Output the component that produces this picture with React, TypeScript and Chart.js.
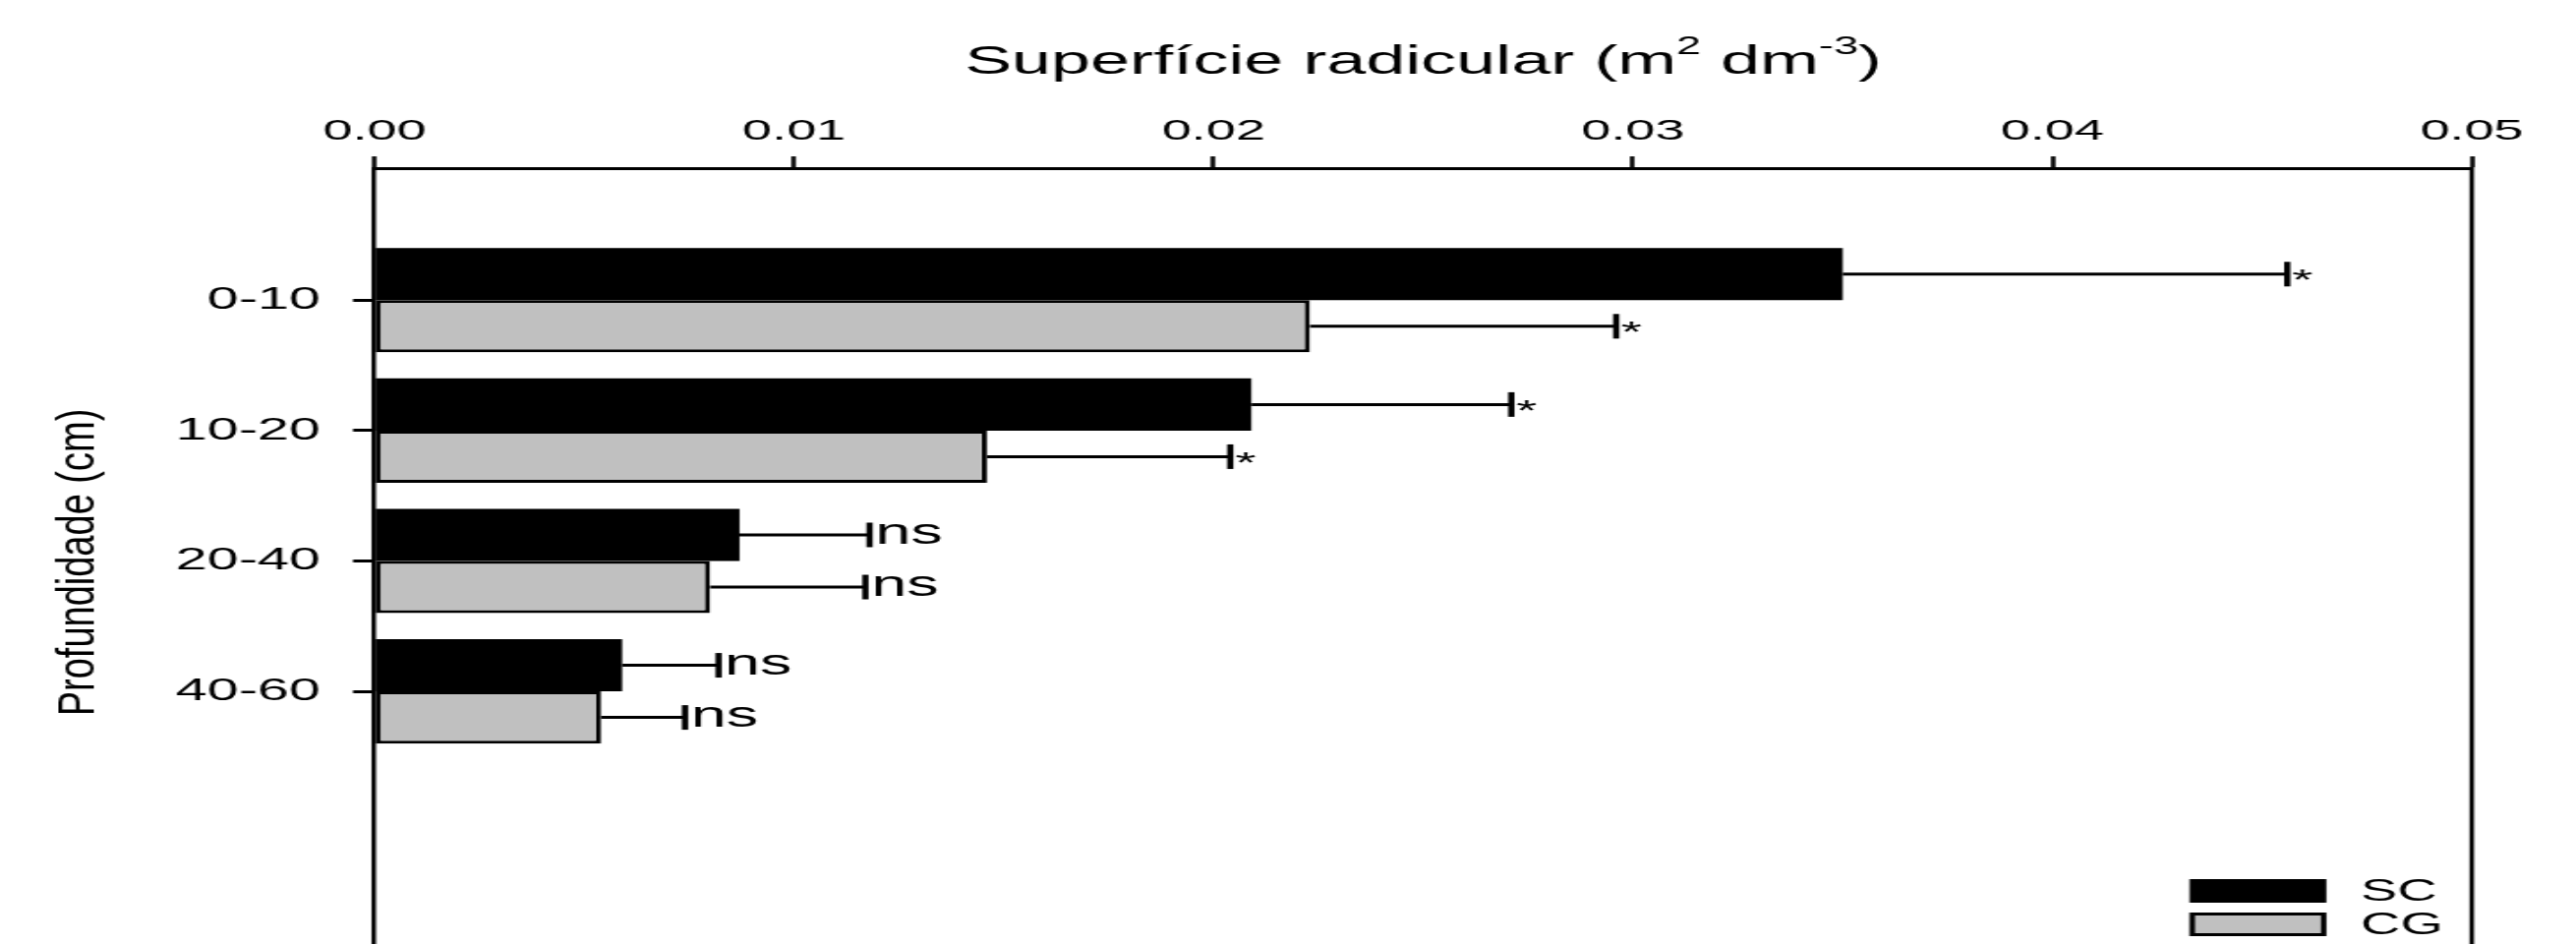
import React, { useEffect, useRef } from "react";
import { Chart, registerables } from "chart.js";

Chart.register(...registerables);

// ---------------- data ----------------
const depthLabels = ["0-10", "10-20", "20-40", "40-60"];
const seriesNames = ["SC", "CG"];
const seriesColors = ["#000000", "#c0c0c0"];
const scValues = [0.035, 0.0209, 0.0087, 0.0059];
const scErrors = [0.0106, 0.0062, 0.0031, 0.0023];
const cgValues = [0.0223, 0.0146, 0.008, 0.0054];
const cgErrors = [0.0073, 0.0058, 0.0037, 0.002];
const scMarks = ["*", "*", "ns", "ns"];
const cgMarks = ["*", "*", "ns", "ns"];
const xTickValues = [0, 0.01, 0.02, 0.03, 0.04, 0.05];
const xTitleParts: [string, boolean][] = [
  ["Superfície radicular (m", false],
  ["2", true],
  [" dm", false],
  ["-3", true],
  [")", false],
];
const yTitle = "Profundidade (cm)";

// ---------------- layout ----------------
const OUT_W = 2620;
const OUT_H = 960;
const STRETCH = 1.8;
const W = Math.round(OUT_W / STRETCH);
const fx = (px: number) => (px * W) / OUT_W;
const FONT = '"Liberation Sans", Arial, Helvetica, sans-serif';
const PLOT_LEFT = 381;
const PLOT_RIGHT = 2514;
const PLOT_TOP = 171;
const ROW_STEP = 132.6;
const FIRST_ROW = 305.3;
const yMin = -(FIRST_ROW - PLOT_TOP) / ROW_STEP;
const yMax = yMin + (OUT_H - PLOT_TOP) / ROW_STEP;

const zeroPad = (s: any) => {
  s.paddingTop = 0;
  s.paddingBottom = 0;
  s.paddingLeft = 0;
  s.paddingRight = 0;
};

const decorPlugin = {
  id: "decor",
  beforeDraw(chart: any) {
    const { ctx, width, height } = chart;
    ctx.save();
    ctx.fillStyle = "#ffffff";
    ctx.fillRect(0, 0, width, height);
    ctx.restore();
  },
  afterDatasetsDraw(chart: any) {
    const ctx = chart.ctx as CanvasRenderingContext2D;
    const xs = chart.scales.x;
    const area = chart.chartArea;
    const sets: [number[], number[], string[]][] = [
      [scValues, scErrors, scMarks],
      [cgValues, cgErrors, cgMarks],
    ];
    ctx.save();
    ctx.strokeStyle = "#000";
    ctx.fillStyle = "#000";
    sets.forEach(([vals, errs, marks], d) => {
      const meta = chart.getDatasetMeta(d);
      meta.data.forEach((el: any, i: number) => {
        const y = el.y;
        const x0 = el.x;
        const x1 = xs.getPixelForValue(vals[i] + errs[i]);
        ctx.lineWidth = 3;
        ctx.beginPath();
        ctx.moveTo(x0, y);
        ctx.lineTo(x1, y);
        ctx.stroke();
        ctx.lineWidth = 3.5;
        ctx.beginPath();
        ctx.moveTo(x1, y - 12.5);
        ctx.lineTo(x1, y + 12.5);
        ctx.stroke();
        const m = marks[i];
        ctx.textAlign = "left";
        ctx.textBaseline = "alphabetic";
        if (m === "*") {
          const size = 30;
          ctx.font = `${size}px ${FONT}`;
          ctx.fillText(m, x1 + fx(5), y - 2 + 0.58 * size);
        } else {
          const size = 36;
          ctx.font = `${size}px ${FONT}`;
          ctx.fillText(m, x1 + fx(6), y + 0.26 * size);
        }
      });
    });

    // right frame line
    ctx.lineWidth = 2.5;
    ctx.beginPath();
    ctx.moveTo(area.right, area.top - 1);
    ctx.lineTo(area.right, area.bottom);
    ctx.stroke();

    // x title with superscripts
    const mainFont = `40px ${FONT}`;
    const supFont = `25px ${FONT}`;
    let total = 0;
    xTitleParts.forEach(([t, sup]) => {
      ctx.font = sup ? supFont : mainFont;
      total += ctx.measureText(t).width;
    });
    let x = (area.left + area.right) / 2 - total / 2;
    ctx.textAlign = "left";
    ctx.textBaseline = "alphabetic";
    xTitleParts.forEach(([t, sup]) => {
      ctx.font = sup ? supFont : mainFont;
      ctx.fillText(t, x, sup ? 55 : 75);
      x += ctx.measureText(t).width;
    });

    // y title
    ctx.save();
    ctx.translate(fx(81), 572);
    ctx.scale(0.8, 1);
    ctx.rotate(-Math.PI / 2);
    ctx.font = `38px ${FONT}`;
    ctx.textAlign = "center";
    ctx.textBaseline = "middle";
    ctx.fillText(yTitle, 0, 0);
    ctx.restore();

    // legend
    const lx = fx(2227);
    const lw = fx(2366 - 2227);
    const rows = [894, 928];
    seriesNames.forEach((name, i) => {
      const top = rows[i];
      const h = 24;
      ctx.fillStyle = seriesColors[i];
      ctx.fillRect(lx, top, lw, h);
      if (i === 1) {
        ctx.strokeStyle = "#000";
        ctx.lineWidth = 3;
        ctx.strokeRect(lx + 1.5, top + 1.5, lw - 3, h - 3);
      }
      ctx.fillStyle = "#000";
      ctx.font = `31px ${FONT}`;
      ctx.textAlign = "left";
      ctx.textBaseline = "middle";
      ctx.fillText(name, fx(2401), top + h / 2 + 1);
    });
    ctx.restore();
  },
};

export default function App() {
  const canvasRef = useRef<HTMLCanvasElement | null>(null);

  useEffect(() => {
    document.body.style.margin = "0";
    const canvas = canvasRef.current;
    if (!canvas) return;
    const chart = new Chart(canvas, {
      type: "bar",
      data: {
        datasets: [
          {
            label: seriesNames[0],
            data: depthLabels.map((_, i) => ({ x: scValues[i], y: i })),
            backgroundColor: seriesColors[0],
            borderWidth: 0,
            categoryPercentage: 0.8,
            barPercentage: 1.0,
          },
          {
            label: seriesNames[1],
            data: depthLabels.map((_, i) => ({ x: cgValues[i], y: i })),
            backgroundColor: seriesColors[1],
            borderColor: "#000000",
            borderWidth: 3,
            borderSkipped: false,
            categoryPercentage: 0.8,
            barPercentage: 1.0,
          },
        ] as any,
      },
      options: {
        indexAxis: "y",
        responsive: false,
        devicePixelRatio: 1,
        animation: false,
        layout: {
          autoPadding: false,
          padding: { left: 0, top: 0, right: W - fx(PLOT_RIGHT), bottom: 0 },
        },
        plugins: {
          legend: { display: false },
          tooltip: { enabled: false },
          title: { display: false },
        },
        scales: {
          x: {
            type: "linear",
            position: "top",
            min: 0,
            max: 0.05,
            bounds: "data",
            offset: false,
            afterBuildTicks: (s: any) => {
              s.ticks = xTickValues.map((v) => ({ value: v }));
            },
            afterFit: (s: any) => {
              s.height = PLOT_TOP;
              zeroPad(s);
            },
            ticks: {
              callback: (v: any) => Number(v).toFixed(2),
              font: { family: FONT, size: 30 },
              color: "#000",
              padding: 7,
              maxRotation: 0,
            },
            grid: {
              offset: false,
              drawOnChartArea: false,
              drawTicks: true,
              tickLength: 12,
              tickWidth: 2.5,
              tickColor: "#000",
            },
            border: { display: true, color: "#000", width: 3 },
          },
          y: {
            type: "linear",
            reverse: true,
            min: yMin,
            max: yMax,
            bounds: "data",
            offset: false,
            afterBuildTicks: (s: any) => {
              s.ticks = depthLabels.map((_, i) => ({ value: i }));
            },
            afterFit: (s: any) => {
              s.width = fx(PLOT_LEFT);
              zeroPad(s);
            },
            ticks: {
              callback: (v: any) => depthLabels[v] ?? "",
              font: { family: FONT, size: 32 },
              color: "#000",
              padding: fx(33),
            },
            grid: {
              offset: false,
              drawOnChartArea: false,
              drawTicks: true,
              tickLength: fx(22),
              tickWidth: 3,
              tickColor: "#000",
            },
            border: { display: true, color: "#000", width: 2.5 },
          },
        },
      } as any,
      plugins: [decorPlugin],
    });
    return () => chart.destroy();
  }, []);

  return (
    <div
      style={{
        position: "fixed",
        left: 0,
        top: 0,
        width: OUT_W,
        height: OUT_H,
        background: "#fff",
        overflow: "hidden",
      }}
    >
      <canvas
        ref={canvasRef}
        width={W}
        height={OUT_H}
        style={{ width: `${OUT_W}px`, height: `${OUT_H}px`, display: "block" }}
      />
    </div>
  );
}
